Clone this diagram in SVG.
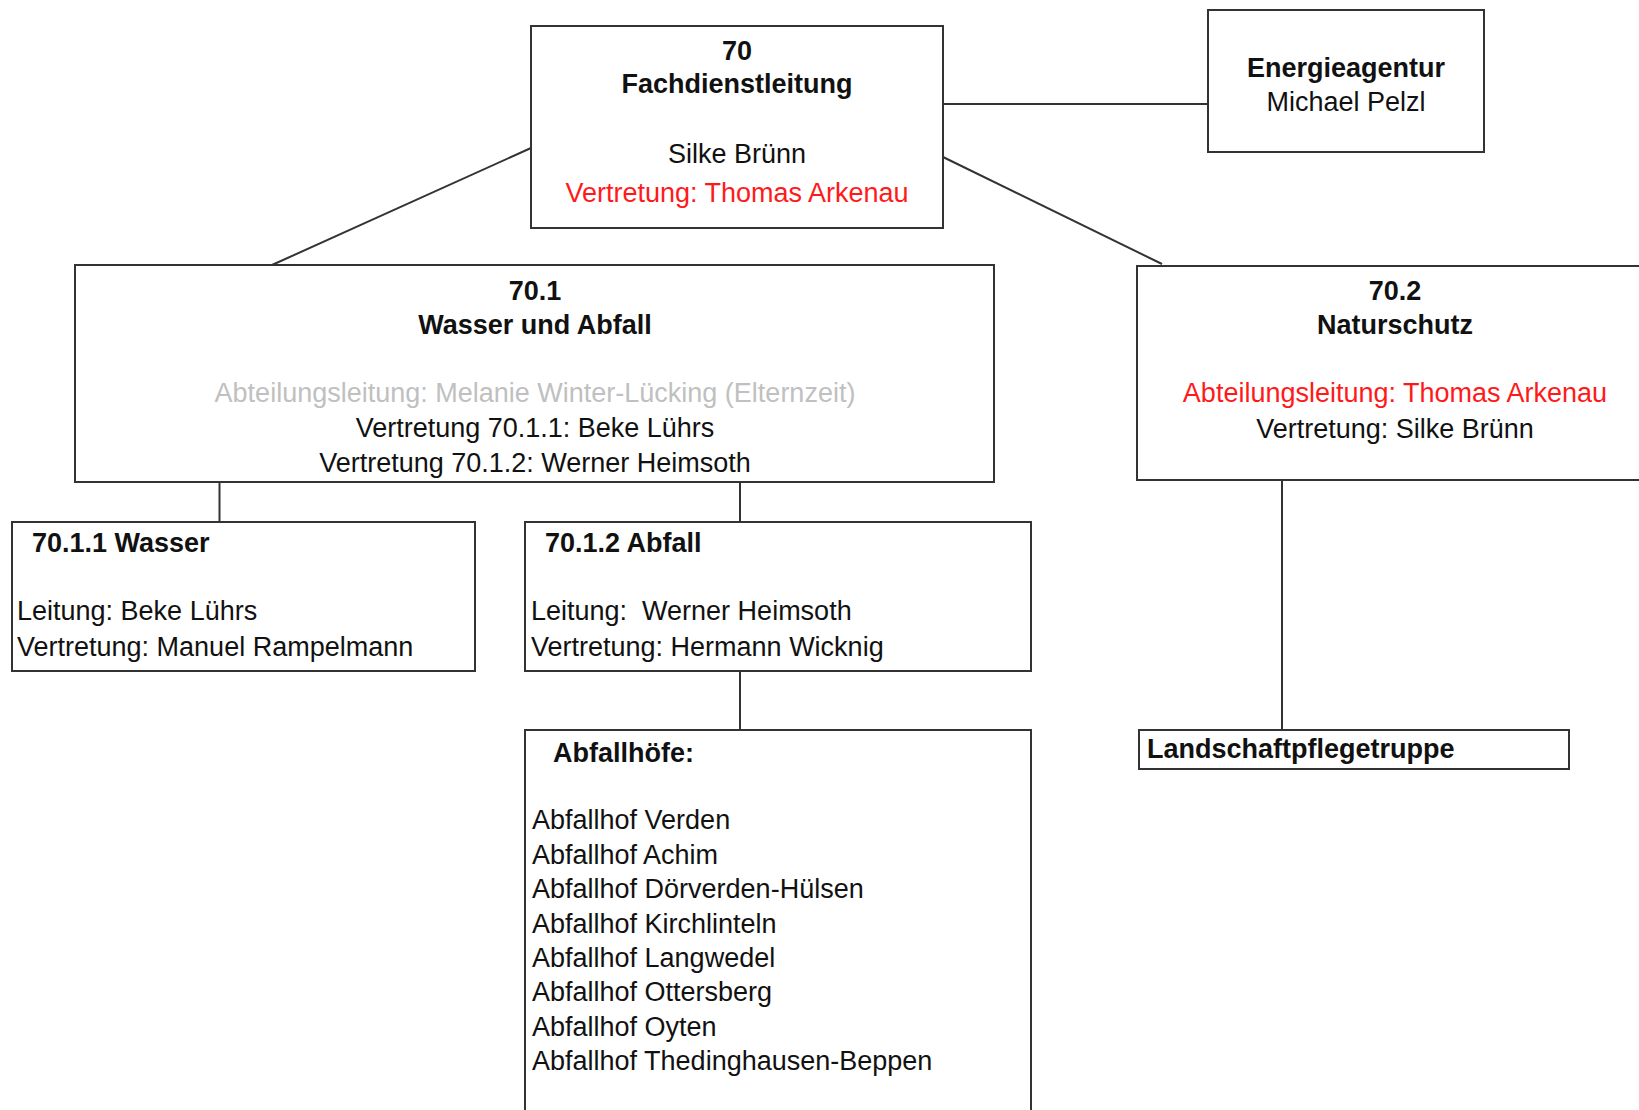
<svg xmlns="http://www.w3.org/2000/svg" width="1639" height="1110" viewBox="0 0 1639 1110">
<style>
.box{fill:#fff;stroke:#333;stroke-width:2}
.con{stroke:#333;stroke-width:2;fill:none}
text{font-family:"Liberation Sans",Arial,sans-serif;font-size:27px;fill:#111}
.b{font-weight:bold}
.c{text-anchor:middle}
.red{fill:#ff1a1a}
.gray{fill:#c0c0c0}
</style>
<rect width="1639" height="1110" fill="#fff"/>
<g id="connectors">
<line class="con" x1="943" y1="104" x2="1208" y2="104"/>
<line class="con" x1="531" y1="148" x2="272" y2="265"/>
<line class="con" x1="943" y1="157" x2="1162" y2="264"/>
<line class="con" x1="219.5" y1="482" x2="219.5" y2="522"/>
<line class="con" x1="740" y1="482" x2="740" y2="522"/>
<line class="con" x1="740" y1="671" x2="740" y2="730"/>
<line class="con" x1="1282" y1="481" x2="1282" y2="730"/>
</g>
<g id="n70">
<rect class="box" x="531" y="26" width="412" height="202"/>
<text class="b c" x="737" y="60">70</text>
<text class="b c" x="737" y="93">Fachdienstleitung</text>
<text class="c" x="737" y="163">Silke Brünn</text>
<text class="c red" x="737" y="202">Vertretung: Thomas Arkenau</text>
</g>
<g id="energie">
<rect class="box" x="1208" y="10" width="276" height="142"/>
<text class="b c" x="1346" y="77">Energieagentur</text>
<text class="c" x="1346" y="111">Michael Pelzl</text>
</g>
<g id="n70_1">
<rect class="box" x="75" y="265" width="919" height="217"/>
<text class="b c" x="535" y="300">70.1</text>
<text class="b c" x="535" y="334">Wasser und Abfall</text>
<text class="c gray" x="535" y="402">Abteilungsleitung: Melanie Winter-Lücking (Elternzeit)</text>
<text class="c" x="535" y="437">Vertretung 70.1.1: Beke Lührs</text>
<text class="c" x="535" y="472">Vertretung 70.1.2: Werner Heimsoth</text>
</g>
<g id="n70_2">
<rect class="box" x="1137" y="266" width="520" height="214"/>
<text class="b c" x="1395" y="300">70.2</text>
<text class="b c" x="1395" y="334">Naturschutz</text>
<text class="c red" x="1395" y="402">Abteilungsleitung: Thomas Arkenau</text>
<text class="c" x="1395" y="438">Vertretung: Silke Brünn</text>
</g>
<g id="n70_1_1">
<rect class="box" x="12" y="522" width="463" height="149"/>
<text class="b" x="32" y="552">70.1.1 Wasser</text>
<text x="17" y="620">Leitung: Beke Lührs</text>
<text x="17" y="656">Vertretung: Manuel Rampelmann</text>
</g>
<g id="n70_1_2">
<rect class="box" x="525" y="522" width="506" height="149"/>
<text class="b" x="545" y="552">70.1.2 Abfall</text>
<text x="531" y="620" xml:space="preserve">Leitung:  Werner Heimsoth</text>
<text x="531" y="656">Vertretung: Hermann Wicknig</text>
</g>
<g id="abfallhoefe">
<rect class="box" x="525" y="730" width="506" height="400"/>
<text class="b" x="553" y="762">Abfallhöfe:</text>
<text x="532" y="829">Abfallhof Verden</text>
<text x="532" y="864">Abfallhof Achim</text>
<text x="532" y="898">Abfallhof Dörverden-Hülsen</text>
<text x="532" y="933">Abfallhof Kirchlinteln</text>
<text x="532" y="967">Abfallhof Langwedel</text>
<text x="532" y="1001">Abfallhof Ottersberg</text>
<text x="532" y="1036">Abfallhof Oyten</text>
<text x="532" y="1070">Abfallhof Thedinghausen-Beppen</text>
</g>
<g id="landschaft">
<rect class="box" x="1139" y="730" width="430" height="39"/>
<text class="b" x="1147" y="758">Landschaftpflegetruppe</text>
</g>
</svg>
